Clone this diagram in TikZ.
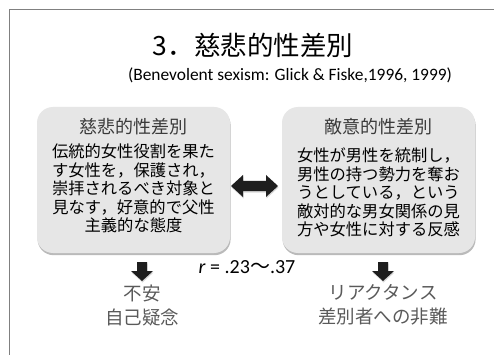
\documentclass[tikz,border=0pt]{standalone}
\usepackage{fontspec}
\setmainfont{Carlito}
\newfontfamily\jp{Noto Sans CJK JP}
\usetikzlibrary{shadows}
\definecolor{frame}{HTML}{808080}
\definecolor{boxfill}{HTML}{E6E6E6}
\definecolor{headtxt}{HTML}{3A3A3A}
\definecolor{lowtxt}{HTML}{5A5A5A}
\definecolor{arrfill}{HTML}{1E1E1E}
\tikzset{
  box/.style={fill=boxfill, rounded corners=16pt, minimum width=193pt, minimum height=146pt, inner sep=0pt,
    drop shadow={shadow xshift=0.6pt, shadow yshift=-2.2pt, opacity=0.45, fill=black!60}},
  boxhead/.style={font=\jp\fontsize{18}{20}\selectfont, text=headtxt, inner sep=0pt},
  boxbody/.style={font=\jp\fontsize{16.3}{18.5}\selectfont, align=center, inner sep=0pt},
  lowtext/.style={font=\jp\fontsize{18.5}{24}\selectfont, align=center, text=lowtxt, inner sep=0pt},
  blockarr/.style={fill=arrfill, drop shadow={shadow xshift=0.5pt, shadow yshift=-1.5pt, opacity=0.3}},
  downarr/.pic={\fill[blockarr] (-5,-9.5) -- (5,-9.5) -- (5,-0.5) -- (11,-0.5) -- (0,9.5) -- (-11,-0.5) -- (-5,-0.5) -- cycle;}
}
\begin{document}
\begin{tikzpicture}[x=1pt,y=-1pt]
\useasboundingbox (0,0) rectangle (494,355);
\fill[white] (0,0) rectangle (494,355);
\draw[frame, line width=1.5pt] (9.7,356) -- (9.7,9.7) -- (495,9.7);

\node[font=\jp\fontsize{26.5}{28}\selectfont, inner sep=0pt] (title) at (253,45) {3．慈悲的性差別};
\node[font=\fontsize{17.4}{19}\selectfont, inner sep=0pt] (sub) at (290,75) {(Benevolent sexism: Glick \& Fiske,1996, 1999)};

\node[box] (lbox) at (133.5,180) {};
\node[box] (rbox) at (378.5,180) {};

\node[boxhead] (lhead) at (133.5,127) {慈悲的性差別};
\node[boxbody] (lbody) at (133.5,188.5) {伝統的女性役割を果た\\す女性を，保護され，\\崇拝されるべき対象と\\見なす，好意的で父性\\主義的な態度};
\node[boxhead] (rhead) at (378.5,127) {敵意的性差別};
\node[boxbody] (rbody) at (378.5,192.5) {女性が男性を統制し，\\男性の持つ勢力を奪お\\うとしている，という\\敵対的な男女関係の見\\方や女性に対する反感};

\coordinate (dbl) at (254.5,186);
\fill[blockarr] (231,186) -- (243,175) -- (243,181) -- (266,181) -- (266,175) -- (278,186) -- (266,197) -- (266,191) -- (243,191) -- (243,197) -- cycle;

\pic at (142,271.5) {downarr};
\pic at (383,271.5) {downarr};

\node[font=\fontsize{20}{22}\selectfont, inner sep=0pt] (r) at (247,267) {\textit{r} = .23{\jp ～}.37};

\node[lowtext] (l1) at (142,305) {不安\\自己疑念};
\node[lowtext] (r1) at (383,305) {リアクタンス\\差別者への非難};
\end{tikzpicture}
\end{document}
